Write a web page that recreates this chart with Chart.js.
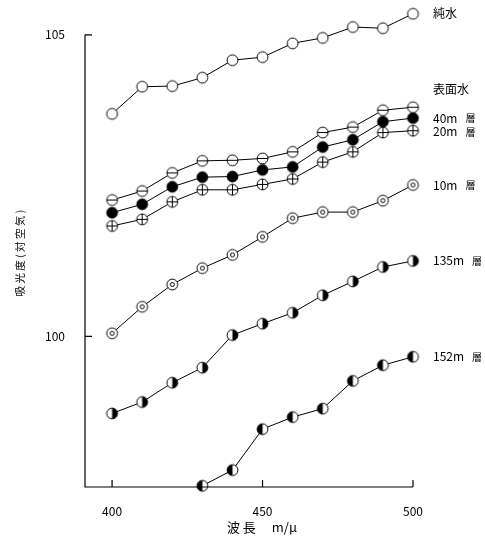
<!DOCTYPE html>
<html><head><meta charset="utf-8">
<script src="https://cdn.jsdelivr.net/npm/chart.js@4/dist/chart.umd.min.js"></script>
<style>html,body{margin:0;padding:0;background:#fff}#wrap{width:485px;height:544px}</style>
</head><body><div id="wrap"><canvas id="c" width="485" height="544"></canvas></div>
<script>
const wavelengths = [400,410,420,430,440,450,460,470,480,490,500];
const pureWater  = [103.69,104.14,104.15,104.29,104.58,104.63,104.86,104.95,105.13,105.11,105.35];
const surface    = [102.26,102.41,102.71,102.91,102.92,102.95,103.06,103.38,103.47,103.75,103.80];
const layer40m   = [102.05,102.19,102.48,102.64,102.65,102.76,102.81,103.14,103.26,103.56,103.62];
const layer20m   = [101.83,101.94,102.23,102.43,102.43,102.52,102.61,102.89,103.06,103.38,103.41];
const layer10m   = [100.05,100.49,100.86,101.13,101.35,101.65,101.96,102.06,102.06,102.25,102.51];
const layer135m  = [98.72,98.91,99.23,99.48,100.02,100.21,100.39,100.68,100.91,101.15,101.25];
const wl152m     = [430,440,450,460,470,480,490,500];
const layer152m  = [97.52,97.78,98.46,98.66,98.80,99.26,99.52,99.66];
const xTicks = [400,450,500];
const yTicks = [100,105];
const seriesLabels = ['純水','表面水','40m 層','20m 層','10m 層','135m 層','152m 層'];
const markerTypes = ['open','minus','filled','plus','dot','halfR','halfL'];
const labelDy = [0,-18,0,1,0,0,0];

const FONT = '"Noto Sans CJK JP", "DejaVu Sans", sans-serif';

function marker(type){
  const s = 15, c = document.createElement('canvas');
  c.width = s; c.height = s;
  const g = c.getContext('2d');
  const cx = s/2, cy = s/2, r = 5.4;
  g.lineWidth = 1; g.strokeStyle = '#000';
  g.beginPath(); g.arc(cx,cy,r,0,Math.PI*2);
  g.fillStyle = type==='filled' ? '#000' : '#fff'; g.fill(); g.stroke();
  g.fillStyle = '#000';
  if(type==='minus'){ g.beginPath(); g.moveTo(cx-r,cy); g.lineTo(cx+r,cy); g.stroke(); }
  if(type==='plus'){ g.beginPath(); g.moveTo(cx-r,cy); g.lineTo(cx+r,cy); g.moveTo(cx,cy-r); g.lineTo(cx,cy+r); g.stroke(); }
  if(type==='dot'){ g.beginPath(); g.arc(cx,cy,2,0,Math.PI*2); g.stroke(); }
  if(type==='halfR'){ g.beginPath(); g.arc(cx,cy,r,-Math.PI/2,Math.PI/2); g.closePath(); g.fill(); }
  if(type==='halfL'){ g.beginPath(); g.arc(cx,cy,r,Math.PI/2,Math.PI*1.5); g.closePath(); g.fill(); }
  return c;
}

function pts(xs, ys){ return ys.map((v,i)=>({x:xs[i], y:v})); }
const seriesData = [
  pts(wavelengths,pureWater), pts(wavelengths,surface), pts(wavelengths,layer40m),
  pts(wavelengths,layer20m), pts(wavelengths,layer10m), pts(wavelengths,layer135m),
  pts(wl152m,layer152m)
];

const datasets = seriesData.map((d,i)=>({
  label: seriesLabels[i], data: d, borderColor:'#000', borderWidth:1, tension:0,
  pointStyle: marker(markerTypes[i]), pointRadius:7, pointHoverRadius:7, clip:false, fill:false
}));

const axesPlugin = {
  id:'axesPlugin',
  afterDraw(chart){
    const g = chart.ctx, xs = chart.scales.x, ys = chart.scales.y, a = chart.chartArea;
    g.save(); g.strokeStyle = '#000'; g.lineWidth = 1.2;
    const top = ys.getPixelForValue(yTicks[yTicks.length-1]);
    const right = xs.getPixelForValue(xTicks[xTicks.length-1]);
    g.beginPath();
    g.moveTo(a.left, top); g.lineTo(a.left, a.bottom); g.lineTo(right, a.bottom);
    yTicks.forEach(v=>{ const y = ys.getPixelForValue(v); g.moveTo(a.left,y); g.lineTo(a.left+7,y); });
    xTicks.forEach(v=>{ const x = xs.getPixelForValue(v); g.moveTo(x,a.bottom); g.lineTo(x,a.bottom-7); });
    g.stroke();
    g.fillStyle = '#000'; g.textBaseline = 'middle'; g.textAlign = 'left';
    chart.data.datasets.forEach((ds,i)=>{
      const last = ds.data[ds.data.length-1];
      const x = xs.getPixelForValue(last.x) + 20;
      const y = ys.getPixelForValue(last.y) + labelDy[i];
      const parts = seriesLabels[i].split(' ');
      g.font = '12px ' + FONT;
      g.fillText(parts[0], x, y);
      if(parts[1]){
        const w = g.measureText(parts[0]).width;
        g.font = '10px ' + FONT;
        g.fillText(parts[1], x + w + 8, y);
      }
    });
    g.restore();
  }
};

new Chart(document.getElementById('c'), {
  type:'line',
  data:{ datasets },
  plugins:[axesPlugin],
  options:{
    responsive:false, animation:false, devicePixelRatio:1,
    layout:{ padding:{ top:0, right:72, left:0, bottom:0 } },
    plugins:{ legend:{display:false}, tooltip:{enabled:false} },
    scales:{
      x:{ type:'linear', min:391, max:500,
        grid:{display:false}, border:{display:false},
        afterBuildTicks(s){ s.ticks = xTicks.map(v=>({value:v})); },
        afterFit(s){ s.height = 57; },
        ticks:{ padding:9, color:'#000', font:{family:FONT, size:12} },
        title:{ display:true, text:'\u3000\u3000波 長\u3000 m/μ', color:'#000', font:{family:FONT, size:13}, padding:{top:0,bottom:9} }
      },
      y:{ type:'linear', min:97.5, max:105.26,
        grid:{display:false}, border:{display:false},
        afterBuildTicks(s){ s.ticks = yTicks.map(v=>({value:v})); },
        afterFit(s){ s.width = 85; },
        ticks:{ padding:12, color:'#000', font:{family:FONT, size:12} },
        title:{ display:true, text:'吸 光 度 ( 対 空 気 )', color:'#000', font:{family:FONT, size:10.5}, padding:{top:14,bottom:0} }
      }
    }
  }
});
</script></body></html>
